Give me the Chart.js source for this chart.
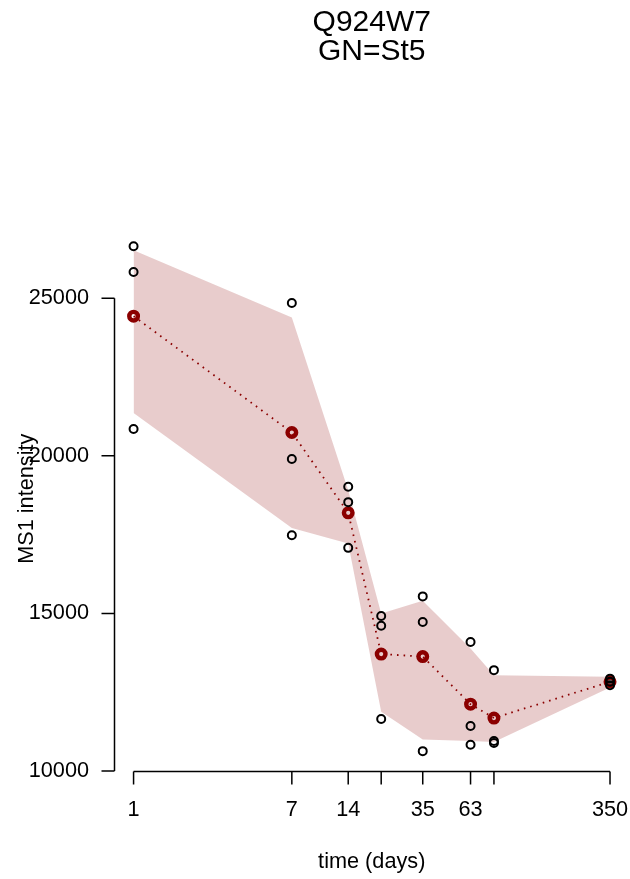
<!DOCTYPE html>
<html>
<head>
<meta charset="utf-8">
<script src="https://cdn.jsdelivr.net/npm/chart.js@4.4.0/dist/chart.umd.min.js"></script>
<style>
  html, body { margin: 0; padding: 0; background: #fff; }
  #wrap { width: 630px; height: 879px; }
</style>
</head>
<body>
<div id="wrap"><canvas id="chart" width="630" height="879"></canvas></div>
<script>
// time points (days) and tick labels (21 and 84 have ticks but no label)
const days = [1, 7, 14, 21, 35, 63, 84, 350];
const dayLabels = ['1', '7', '14', '', '35', '63', '', '350'];
const yTicks = [10000, 15000, 20000, 25000];

// replicate intensities
const rep1 = [26650, 24850, 19020, 14920, 15540, 14090, 13200, 12930];
const rep2 = [25830, 19900, 18530, 14610, 14730, 11430, 10950, 12830];
const rep3 = [20850, 17480, 17080, 11650, 10630, 10830, 10890, 12720];

// mean per time point
const meanVals = [24430, 20740, 18190, 13710, 13630, 12120, 11680, 12830];

// shaded band
const bandUpper = [26520, 24390, 18910, 15000, 15400, 13890, 13040, 12990];
const bandLower = [21360, 17710, 17220, 11880, 11000, 10950, 10920, 12650];

const darkred = '#8B0000';
const font = 'Liberation Sans, Arial, Helvetica, sans-serif';

function pts(vals) {
  return days.map((d, i) => ({ x: d, y: vals[i] }));
}

const replicatePts = [].concat(pts(rep1), pts(rep2), pts(rep3));

// R-style axes: line only from first to last tick, ticks pointing outward
const rAxes = {
  id: 'rAxes',
  afterDraw(chart) {
    const ctx = chart.ctx;
    const xs = chart.scales.x, ys = chart.scales.y;
    const area = chart.chartArea;
    const tl = 13;
    ctx.save();
    ctx.strokeStyle = '#000';
    ctx.lineWidth = 1.5;
    ctx.beginPath();
    const y0 = ys.getPixelForValue(yTicks[0]);
    const y1 = ys.getPixelForValue(yTicks[yTicks.length - 1]);
    ctx.moveTo(area.left, y0);
    ctx.lineTo(area.left, y1);
    yTicks.forEach(v => {
      const p = ys.getPixelForValue(v);
      ctx.moveTo(area.left, p);
      ctx.lineTo(area.left - tl, p);
    });
    const x0 = xs.getPixelForValue(days[0]);
    const x1 = xs.getPixelForValue(days[days.length - 1]);
    ctx.moveTo(x0, area.bottom);
    ctx.lineTo(x1, area.bottom);
    days.forEach(v => {
      const p = xs.getPixelForValue(v);
      ctx.moveTo(p, area.bottom);
      ctx.lineTo(p, area.bottom + tl);
    });
    ctx.stroke();
    ctx.restore();
  }
};

new Chart(document.getElementById('chart'), {
  type: 'line',
  data: {
    datasets: [
      {
        label: 'replicates',
        data: replicatePts,
        showLine: false,
        pointRadius: 4,
        pointBorderWidth: 2,
        pointBorderColor: '#000',
        pointBackgroundColor: 'rgba(0,0,0,0)',
        order: 0
      },
      {
        label: 'mean',
        data: pts(meanVals),
        borderColor: darkred,
        borderWidth: 1.8,
        borderDash: [1.6, 5],
        pointRadius: 4.3,
        pointBorderWidth: 4.4,
        pointBorderColor: darkred,
        pointBackgroundColor: 'rgba(0,0,0,0)',
        fill: false,
        order: 1
      },
      {
        label: 'lower',
        data: pts(bandLower),
        borderWidth: 0,
        borderColor: 'rgba(0,0,0,0)',
        pointRadius: 0,
        fill: false,
        order: 3
      },
      {
        label: 'upper',
        data: pts(bandUpper),
        borderWidth: 0,
        borderColor: 'rgba(0,0,0,0)',
        backgroundColor: 'rgba(139,0,0,0.2)',
        pointRadius: 0,
        fill: { target: 2 },
        order: 2
      }
    ]
  },
  options: {
    responsive: false,
    animation: false,
    devicePixelRatio: 1,
    layout: { autoPadding: false, padding: { left: 0, right: 1, top: 0, bottom: 0 } },
    plugins: {
      legend: { display: false },
      tooltip: { enabled: false },
      title: {
        display: true,
        fullSize: false,
        text: ['Q924W7', 'GN=St5'],
        color: '#000',
        font: { family: font, size: 30, weight: 'normal', lineHeight: 0.96 },
        padding: { top: 8.5, bottom: 159.9 }
      }
    },
    scales: {
      x: {
        type: 'logarithmic',
        bounds: 'data',
        min: 0.791,
        max: 442,
        afterBuildTicks: s => { s.ticks = days.map(v => ({ value: v })); },
        afterFit: s => { s.height = 107.5; s.paddingLeft = 0; s.paddingRight = 0; },
        grid: { display: false, drawTicks: false },
        border: { display: false },
        ticks: {
          autoSkip: false,
          maxRotation: 0,
          padding: 25.5,
          color: '#000',
          font: { family: font, size: 21.7 },
          callback: (v, i) => dayLabels[i]
        },
        title: {
          display: true,
          text: 'time (days)',
          color: '#000',
          font: { family: font, size: 21.7 },
          padding: { top: 0, bottom: 4 }
        }
      },
      y: {
        type: 'linear',
        bounds: 'data',
        min: 9984,
        max: 27291,
        afterBuildTicks: s => { s.ticks = yTicks.map(v => ({ value: v })); },
        afterFit: s => { s.width = 114.5; s.paddingTop = 0; s.paddingBottom = 0; },
        grid: { display: false, drawTicks: false },
        border: { display: false },
        ticks: {
          autoSkip: false,
          padding: 25.5,
          color: '#000',
          font: { family: font, size: 21.7 },
          callback: v => String(v)
        },
        title: {
          display: true,
          text: 'MS1 intensity',
          color: '#000',
          font: { family: font, size: 21.7 },
          padding: { top: 14, bottom: 0 }
        }
      }
    }
  },
  plugins: [rAxes]
});
</script>
</body>
</html>
